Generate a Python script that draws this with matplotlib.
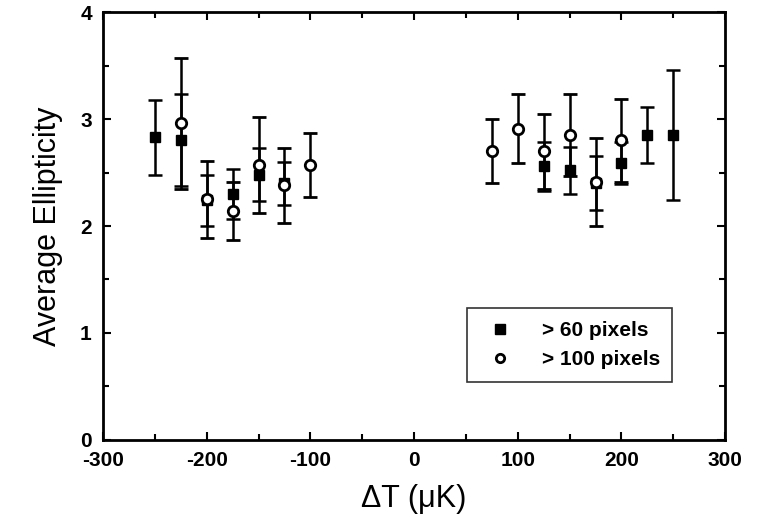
import matplotlib
matplotlib.use("Agg")
from matplotlib import pyplot as plt
from matplotlib.ticker import MultipleLocator
from matplotlib.lines import Line2D

# > 60 pixels (filled squares)
dt_60 = [-250, -225, -200, -175, -150, -125, 125, 150, 175, 200, 225, 250]
ell_60 = [2.83, 2.80, 2.24, 2.30, 2.48, 2.40, 2.56, 2.52, 2.40, 2.59, 2.85, 2.85]
err_60 = [0.35, 0.43, 0.24, 0.23, 0.25, 0.20, 0.23, 0.22, 0.25, 0.20, 0.26, 0.61]

# > 100 pixels (open circles)
dt_100 = [-225, -200, -175, -150, -125, -100, 75, 100, 125, 150, 175, 200]
ell_100 = [2.96, 2.25, 2.14, 2.57, 2.38, 2.57, 2.70, 2.91, 2.70, 2.85, 2.41, 2.80]
err_100 = [0.61, 0.36, 0.27, 0.45, 0.35, 0.30, 0.30, 0.32, 0.35, 0.38, 0.41, 0.39]

x_ticks = [-300, -200, -100, 0, 100, 200, 300]
y_ticks = [0, 1, 2, 3, 4]

plt.rcParams['font.family'] = ['Liberation Sans', 'DejaVu Sans']
plt.rcParams['axes.unicode_minus'] = False

fig = plt.figure(figsize=(7.57, 5.25), dpi=100)
ax = fig.add_axes([0.136, 0.162, 0.822, 0.815])

ax.errorbar(dt_60, ell_60, yerr=err_60, fmt='s', color='black', ms=6.5,
            elinewidth=1.8, capsize=5, capthick=1.8, zorder=3)
ax.errorbar(dt_100, ell_100, yerr=err_100, fmt='o', color='black', mfc='white',
            mec='black', mew=2, ms=7.5, elinewidth=1.8, capsize=5, capthick=1.8,
            zorder=4)

ax.set_xlim(-300, 300)
ax.set_ylim(0, 4)
ax.set_xticks(x_ticks)
ax.set_yticks(y_ticks)
ax.xaxis.set_minor_locator(MultipleLocator(50))
ax.yaxis.set_minor_locator(MultipleLocator(0.5))
ax.tick_params(which='both', direction='in', top=True, right=True, width=1.5)
ax.tick_params(which='major', length=6)
ax.tick_params(which='minor', length=4)
ax.tick_params(axis='x', pad=8)
ax.tick_params(axis='y', pad=8)
for lab in ax.get_xticklabels() + ax.get_yticklabels():
    lab.set_fontweight('bold')
    lab.set_fontsize(15)
for s in ax.spines.values():
    s.set_linewidth(2)

ax.set_xlabel('\u0394T (\u03bcK)', fontsize=22, labelpad=10)
ax.set_ylabel('Average Ellipticity', fontsize=22, labelpad=12)

handles = [
    Line2D([], [], ls='none', marker='s', color='black', ms=7),
    Line2D([], [], ls='none', marker='o', mfc='white', mec='black', mew=2, ms=6),
]
leg = ax.legend(handles, ['> 60 pixels', '> 100 pixels'], loc='lower right',
                bbox_to_anchor=(0.915, 0.136), frameon=True, fancybox=False,
                edgecolor='black', prop={'weight': 'bold', 'size': 15},
                handletextpad=1.0, borderpad=0.6, labelspacing=0.5,
                borderaxespad=0)
leg.get_frame().set_linewidth(1.2)

fig.savefig('out.png', dpi=100)
